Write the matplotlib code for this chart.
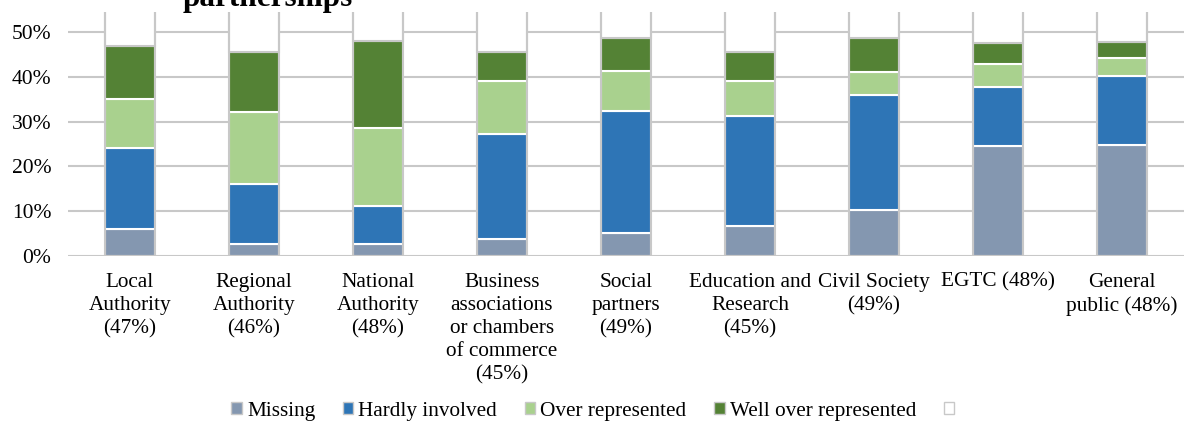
import numpy as np
import matplotlib.pyplot as plt

plt.rcParams['font.family'] = ['Liberation Serif', 'DejaVu Serif']

categories = ['Local\nAuthority\n(47%)', 'Regional\nAuthority\n(46%)', 'National\nAuthority\n(48%)',
              'Business\nassociations\nor chambers\nof commerce\n(45%)', 'Social\npartners\n(49%)',
              'Education and\nResearch\n(45%)', 'Civil Society\n(49%)', 'EGTC (48%)', 'General\npublic (48%)']

# shares in percent
missing = [6.1, 2.6, 2.6, 3.9, 5.1, 6.6, 10.3, 24.6, 24.8]
hardly = [18.1, 13.5, 8.6, 23.3, 27.3, 24.6, 25.6, 13.1, 15.4]
over = [10.8, 16.0, 17.4, 11.9, 9.0, 7.8, 5.2, 5.1, 4.0]
well_over = [11.9, 13.5, 19.5, 6.4, 7.3, 6.5, 7.6, 4.7, 3.7]

series = [('Missing', missing, '#8497B0'),
          ('Hardly involved', hardly, '#2E75B6'),
          ('Over represented', over, '#A9D18E'),
          ('Well over represented', well_over, '#548235')]

fig = plt.figure(figsize=(11.84, 4.21), dpi=100)
ax = fig.add_axes([0.0574, 0.392, 0.9426, 0.5795])

x = np.arange(len(categories))
w = 0.4
bottom = np.zeros(len(categories))
for name, vals, col in series:
    ax.bar(x, vals, w, bottom=bottom, color=col, edgecolor='white', linewidth=1.5, label=name, zorder=2)
    bottom += np.array(vals)

# the blank remainder series up to 100%
ax.bar(x, 100 - bottom, w, bottom=bottom, color='white', edgecolor='#c8c8c8', linewidth=1.5, label=' ', zorder=2)
ax.bar(x, np.full(len(categories), 100.0), w, fill=False, edgecolor='#c8c8c8', linewidth=1.5, zorder=3)

ax.set_xlim(-0.5, len(categories) - 0.5)
ax.set_ylim(0, 54.5)
ax.set_yticks(range(0, 51, 10))
ax.set_yticklabels([f'{v}%' for v in range(0, 51, 10)], fontsize=15.5)
ax.set_xticks(x)
ax.set_xticklabels(categories, fontsize=15.3, va='top', linespacing=1.3)
ax.tick_params(length=0)
ax.tick_params(axis='y', pad=12)
ax.tick_params(axis='x', pad=12)
ax.yaxis.grid(True, color='#c8c8c8', linewidth=1.5, zorder=0)
ax.set_axisbelow(True)
for s in ax.spines.values():
    s.set_visible(False)

fig.text(0.226, 0.985, 'partnerships', fontsize=22.5, fontweight='bold', ha='center', va='baseline')

h, l = ax.get_legend_handles_labels()
leg = fig.legend(h, l, loc='lower center', bbox_to_anchor=(0.505, -0.045), ncol=5, frameon=False, fontsize=15.3,
                 handlelength=0.5, handleheight=0.5, handletextpad=0.23, columnspacing=1.3)
for p in leg.get_patches():
    p.set_edgecolor('#c8c8c8')
    p.set_linewidth(1.0)

fig.savefig('out.png', dpi=100)
